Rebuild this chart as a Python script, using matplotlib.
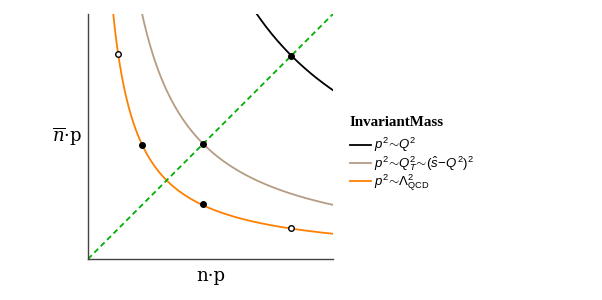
import numpy as np
import matplotlib
matplotlib.use("Agg")
import matplotlib.pyplot as plt

plt.rcParams["mathtext.fontset"] = "custom"
plt.rcParams["mathtext.rm"] = "Liberation Sans"
plt.rcParams["mathtext.it"] = "Liberation Sans:italic"
plt.rcParams["mathtext.bf"] = "Liberation Sans:bold"

# Data (in normalized light-cone units)
hard_xy = 0.83          # p^2 ~ Q^2 point coordinate
collinear_xy = 0.47     # p^2 ~ Q_T^2 point coordinate
soft_pts_x = [0.22, 0.47]
soft_pts_y = [0.465, 0.224]
soft_open_x = [0.122, 0.829]
soft_open_y = [0.837, 0.127]
soft_k = 0.103

labels = [r"$p^2\!\sim\! Q^2$",
          r"$p^2\!\sim\! Q_T^2\!\sim\!(\hat{s}\!-\!Q^2)^2$",
          r"$p^2\!\sim\!\Lambda^2_{\mathrm{QCD}}$"]
colors = ["black", "#b59c85", "#ff8000"]

fig = plt.figure(figsize=(6.02, 3.0), dpi=100)
ax = fig.add_axes([88/602, 41/300, 245/602, 245/300])

ks = [hard_xy**2, collinear_xy**2, soft_k]
for k, c, lab in zip(ks, colors, labels):
    x = np.linspace(k, 1, 400)
    ax.plot(x, k / x, color=c, lw=1.3, label=lab)

ax.plot([0, 1], [0, 1], color="#00b000", lw=1.3, ls=(0, (3, 2)))

ax.plot([hard_xy], [hard_xy], "o", color="black", ms=4, zorder=5)
ax.plot([collinear_xy], [collinear_xy], "o", color="black", ms=4, zorder=5)
ax.plot(soft_pts_x, soft_pts_y, "o", color="black", ms=4, zorder=5)
ax.plot(soft_open_x, soft_open_y, "o", mfc="white", mec="black", mew=1, ms=4, zorder=5)

ax.set_xlim(0, 1)
ax.set_ylim(0, 1)
ax.set_xticks([])
ax.set_yticks([])
for s in ["top", "right"]:
    ax.spines[s].set_visible(False)
for s in ["left", "bottom"]:
    ax.spines[s].set_color("#444444")
    ax.spines[s].set_linewidth(1.0)

ax.set_xlabel("n·p", family="DejaVu Serif", fontsize=13, labelpad=6)
ax.set_ylabel(r"$\overline{n}$·p", family="DejaVu Serif", fontsize=13, rotation=0,
              ha="right", va="center", labelpad=4, math_fontfamily="dejavuserif")

leg = ax.legend(loc="upper left", bbox_to_anchor=(350/602, 1 - 116/300),
                bbox_transform=fig.transFigure, frameon=False,
                title="InvariantMass", fontsize=9.5, handlelength=1.6,
                handletextpad=0.2, labelspacing=0.0, borderpad=0, borderaxespad=0)
leg.get_title().set_fontweight("bold")
leg.get_title().set_family("Liberation Serif")
leg.get_title().set_fontsize(10.8)
leg._legend_box.align = "left"
leg._legend_box.sep = leg._legend_box.sep + 5

fig.savefig("out.png", dpi=100)
